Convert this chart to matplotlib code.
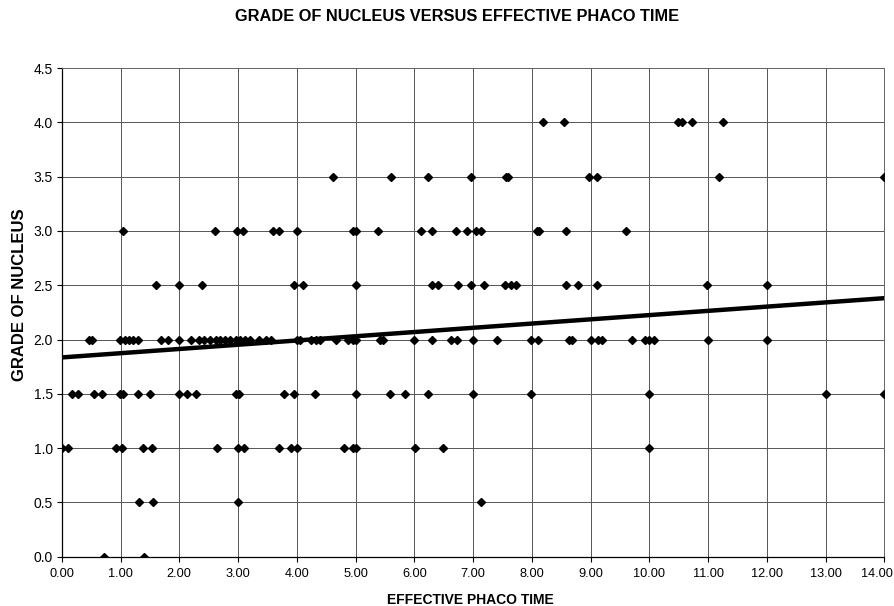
import numpy as np
import matplotlib.pyplot as plt
import matplotlib.transforms as mtransforms

# 読み取った値（効果的フェイコ時間、グレードごと）
grade_levels = [4.0, 3.5, 3.0, 2.5, 2.0, 1.5, 1.0, 0.5, 0.0]
time_g40 = [8.19, 8.55, 10.49, 10.56, 10.72, 11.26]
time_g35 = [4.62, 5.60, 6.23, 6.97, 7.56, 7.60, 8.97, 9.11, 11.18, 14.0]
time_g30 = [1.04, 2.60, 2.99, 3.08, 3.60, 3.70, 4.00, 4.95, 5.00, 5.39, 6.11, 6.30,
            6.71, 6.90, 7.05, 7.13, 8.09, 8.13, 8.58, 9.60]
time_g25 = [1.61, 2.00, 2.39, 3.96, 4.11, 5.00, 6.30, 6.40, 6.75, 6.97, 7.19, 7.55,
            7.64, 7.74, 8.58, 8.79, 9.11, 10.99, 12.0]
time_g20 = [0.47, 0.51, 0.99, 1.07, 1.14, 1.22, 1.29, 1.69, 1.81, 2.0, 2.20, 2.33,
            2.42, 2.53, 2.62, 2.70, 2.78, 2.86, 2.97, 3.04, 3.12, 3.20, 3.36, 3.47,
            3.57, 4.0, 4.06, 4.25, 4.32, 4.39, 4.66, 4.88, 4.95, 5.0, 5.41, 5.47,
            6.0, 6.30, 6.62, 6.73, 7.0, 7.41, 7.99, 8.10, 8.63, 8.68, 9.0, 9.12,
            9.20, 9.71, 9.93, 10.0, 10.08, 11.0, 12.0]
time_g15 = [0.17, 0.27, 0.55, 0.69, 0.99, 1.04, 1.29, 1.51, 1.99, 2.14, 2.28, 2.97,
            3.01, 3.78, 3.95, 4.31, 5.0, 5.58, 5.85, 6.24, 7.0, 7.99, 10.0, 13.01, 14.0]
time_g10 = [0.0, 0.11, 0.93, 1.02, 1.38, 1.53, 2.64, 3.0, 3.10, 3.69, 3.90, 4.01,
            4.80, 4.95, 5.0, 6.01, 6.49, 10.0]
time_g05 = [1.32, 1.56, 3.0, 7.14]
time_g00 = [0.72, 1.40]

# 近似直線
trend_intercept = 1.835
trend_slope = 0.039

x_ticks = np.arange(0, 15, 1)
y_ticks = np.arange(0, 5.0, 0.5)

plt.rcParams['font.family'] = ['Liberation Sans', 'DejaVu Sans']

times = [time_g40, time_g35, time_g30, time_g25, time_g20, time_g15, time_g10, time_g05, time_g00]
xs = []
ys = []
for g, t in zip(grade_levels, times):
    xs.extend(t)
    ys.extend([g] * len(t))

fig = plt.figure(figsize=(8.95, 6.06), dpi=100)
ax = fig.add_axes([0.069, 0.0815, 0.919, 0.806])

ax.plot(xs, ys, linestyle='none', marker='D', markersize=4.2, color='black', zorder=3)

line_x = np.array([0, 14])
ax.plot(line_x, trend_intercept + trend_slope * line_x, color='black', linewidth=3.2, zorder=4,
        solid_capstyle='butt')

ax.set_xlim(0, 14)
ax.set_ylim(0, 4.5)
ax.set_xticks(x_ticks)
ax.set_yticks(y_ticks)
ax.set_xticklabels([f"{v:.2f}" for v in x_ticks], fontsize=9.2)
ax.set_yticklabels([f"{v:.1f}" for v in y_ticks], fontsize=10)
ax.tick_params(axis='x', direction='out', length=3.5, width=0.8, pad=5)
ax.tick_params(axis='y', direction='out', length=3.5, width=0.8, pad=3)
# 右端のラベルを少し左へ
last = ax.get_xticklabels()[-1]
last.set_transform(last.get_transform() + mtransforms.ScaledTranslation(-7 / 100, 0, fig.dpi_scale_trans))

ax.grid(True, color='#555555', linewidth=0.7)
ax.set_axisbelow(True)
for side in ['top', 'right']:
    ax.spines[side].set_color('#666666')
    ax.spines[side].set_linewidth(0.7)
for side in ['left', 'bottom']:
    ax.spines[side].set_color('black')
    ax.spines[side].set_linewidth(0.9)

fig.text(0.526, 0.0099, "EFFECTIVE PHACO TIME", ha='center', va='center',
         fontsize=10, fontweight='bold')
fig.text(0.0218, 0.513, "GRADE OF NUCLEUS", ha='center', va='center', rotation=90,
         fontsize=12, fontweight='bold')
fig.text(0.511, 0.972, "GRADE OF NUCLEUS VERSUS EFFECTIVE PHACO TIME",
         ha='center', va='center', fontsize=11.8, fontweight='bold')

fig.savefig('out.png', dpi=100)
plt.close(fig)
